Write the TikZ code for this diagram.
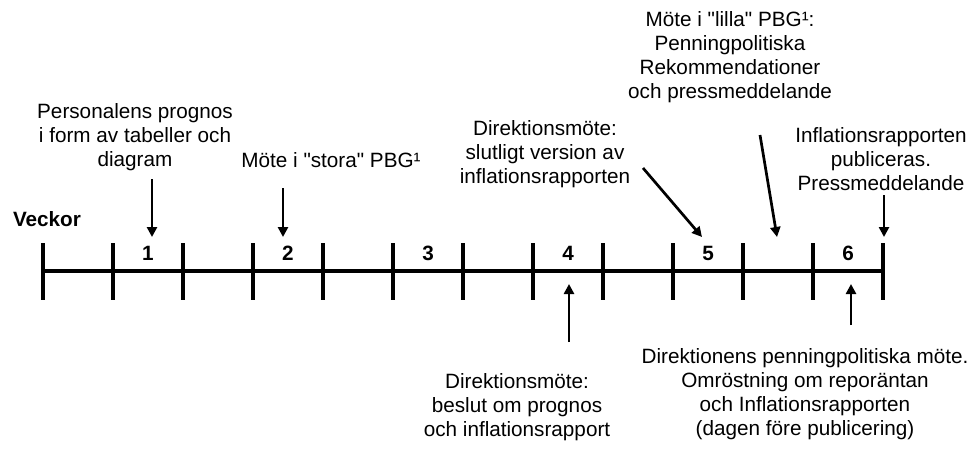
\documentclass[tikz,border=0pt]{standalone}
\usepackage{fontspec}
\setmainfont{Liberation Sans}
\usetikzlibrary{arrows.meta}

\begin{document}
\begin{tikzpicture}[x=1pt, y=-1pt,
		txt/.style={align=center, inner sep=0pt, font=\fontsize{20.7}{24}\selectfont},
		wk/.style={inner sep=0pt, font=\fontsize{20.7}{24}\selectfont\bfseries},
		pil/.style={line width=2.7pt, -{Triangle[length=10pt, width=10pt]}}]
	\useasboundingbox (0, 0) rectangle (973, 448);

	% tidslinjen
	\node (Veckor) [wk] at (47, 219) {Veckor};
	\coordinate (AxStart) at (43, 271);
	\coordinate (AxEnd) at (883, 271);
	\draw[line width=4pt] (AxStart) -- (AxEnd);
	\foreach \i in {0,...,12}
		\draw[line width=4pt] (43+70*\i, 243) -- (43+70*\i, 300);
	\foreach \w in {1,...,6}
		\node (W\w) [wk] at (8+140*\w, 253) {\w};

	% ovanfor
	\node (Prognos) [txt] at (135, 137) {Personalens prognos\\i form av tabeller och\\diagram};
	\coordinate (PrognosTail) at (152, 179);
	\coordinate (PrognosTip) at (152, 237);
	\draw[pil] (PrognosTail) -- (PrognosTip);

	\node (Stora) [txt] at (331, 160) {Möte i \textquotedbl stora\textquotedbl{} PBG¹};
	\coordinate (StoraTail) at (283, 188);
	\coordinate (StoraTip) at (283, 237);
	\draw[pil] (StoraTail) -- (StoraTip);

	\node (Slutlig) [txt] at (545, 154) {Direktionsmöte:\\slutligt version av\\inflationsrapporten};
	\coordinate (SlutligTail) at (643, 168);
	\coordinate (SlutligTip) at (702, 237);
	\draw[pil] (SlutligTail) -- (SlutligTip);

	\node (Lilla) [txt] at (730, 57) {Möte i \textquotedbl lilla\textquotedbl{} PBG¹:\\Penningpolitiska\\Rekommendationer\\och pressmeddelande};
	\coordinate (LillaTail) at (760, 135);
	\coordinate (LillaTip) at (777, 237);
	\draw[pil] (LillaTail) -- (LillaTip);

	\node (Publ) [txt] at (881, 159) {Inflationsrapporten\\publiceras.\\Pressmeddelande};
	\coordinate (PublTail) at (884, 195);
	\coordinate (PublTip) at (884, 237);
	\draw[pil] (PublTail) -- (PublTip);

	% nedanfor
	\node (Beslut) [txt] at (517, 407) {Direktionsmöte:\\beslut om prognos\\och inflationsrapport};
	\coordinate (BeslutTail) at (569, 342);
	\coordinate (BeslutTip) at (569, 284);
	\draw[pil] (BeslutTail) -- (BeslutTip);

	\node (PPMote) [txt] at (805, 394) {Direktionens penningpolitiska möte.\\Omröstning om reporäntan\\och Inflationsrapporten\\(dagen före publicering)};
	\coordinate (PPMoteTail) at (851, 325);
	\coordinate (PPMoteTip) at (851, 284);
	\draw[pil] (PPMoteTail) -- (PPMoteTip);
\end{tikzpicture}
\end{document}
